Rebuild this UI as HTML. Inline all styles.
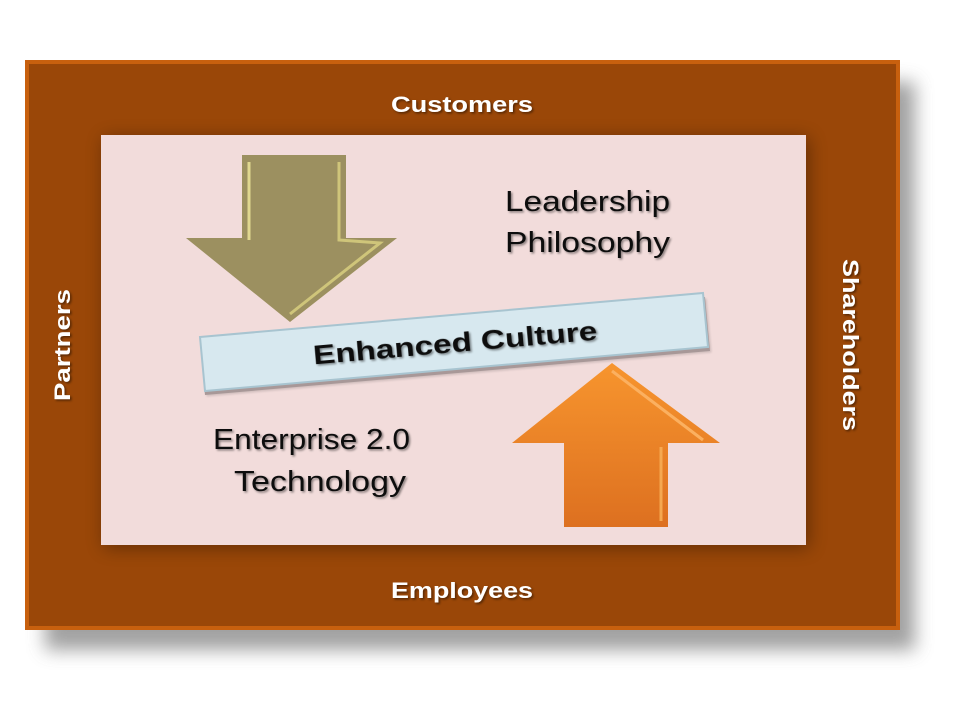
<!DOCTYPE html>
<html><head><meta charset="utf-8"><style>
html,body{margin:0;padding:0;background:#fff;width:960px;height:720px;overflow:hidden}
</style></head><body>
<svg width="960" height="720" viewBox="0 0 960 720" xmlns="http://www.w3.org/2000/svg">
<defs>
<filter id="sh" x="-10%" y="-10%" width="130%" height="130%"><feGaussianBlur stdDeviation="9"/></filter>
<linearGradient id="og" x1="0" y1="0" x2="0" y2="1"><stop offset="0" stop-color="#f7952e"/><stop offset="1" stop-color="#dd7020"/></linearGradient>
<filter id="ts"><feDropShadow dx="1.5" dy="1.5" stdDeviation="1" flood-color="#000" flood-opacity="0.45"/></filter>
</defs>
<rect x="45" y="82" width="870" height="568" fill="#8a8a8a" opacity="0.8" filter="url(#sh)"/>
<rect x="27" y="62" width="871" height="566" fill="#9a4708"/>
<rect x="27" y="62" width="871" height="566" fill="none" stroke="#c8600e" stroke-width="4"/>
<rect x="104" y="138" width="705" height="410" fill="#000" opacity="0.35" filter="url(#sh)"/>
<rect x="101" y="135" width="705" height="410" fill="#f2dcdb"/>
<!-- down arrow -->
<polygon points="242,155 346,155 346,238 397,238 290,322 186,238 242,238" fill="#9c9060"/>
<polyline points="249,162 249,240" stroke="#e0d890" stroke-width="3" fill="none"/>
<polyline points="339,162 339,240 380,243 290,314" stroke="#cfc57a" stroke-width="3" fill="none"/>
<!-- up arrow -->
<polygon points="612,363 720,443 668,443 668,527 564,527 564,443 512,443" fill="url(#og)"/>
<polyline points="612,371 703,440" stroke="#fbb060" stroke-width="3" fill="none"/>
<polyline points="661,447 661,521" stroke="#f5a850" stroke-width="3" fill="none"/>
<!-- bar -->
<polygon points="205,395 710,351 705,297 200,341" fill="#000" opacity="0.3" filter="url(#ts)"/>
<polygon points="200,337 703,293 708,347 205,391" fill="#d7e8ef" stroke="#a8c4d0" stroke-width="2"/>
<text x="455" y="352" text-anchor="middle" transform="rotate(-5 455 342)" font-family="Liberation Sans, sans-serif" font-weight="bold" font-size="27" fill="#111" filter="url(#ts)" textLength="285" lengthAdjust="spacingAndGlyphs">Enhanced Culture</text>
<g font-family="Liberation Sans, sans-serif" font-size="29" fill="#111" filter="url(#ts)">
<text x="505" y="211" textLength="165" lengthAdjust="spacingAndGlyphs">Leadership</text>
<text x="505" y="252" textLength="165" lengthAdjust="spacingAndGlyphs">Philosophy</text>
<text x="213" y="449" textLength="197" lengthAdjust="spacingAndGlyphs">Enterprise 2.0</text>
<text x="234" y="491" textLength="172" lengthAdjust="spacingAndGlyphs">Technology</text>
</g>
<g font-family="Liberation Sans, sans-serif" font-weight="bold" font-size="22" fill="#fff" filter="url(#ts)">
<text x="462" y="112" text-anchor="middle" textLength="142" lengthAdjust="spacingAndGlyphs">Customers</text>
<text x="462" y="598" text-anchor="middle" textLength="142" lengthAdjust="spacingAndGlyphs">Employees</text>
<text transform="translate(70,345) rotate(-90)" text-anchor="middle" textLength="112" lengthAdjust="spacingAndGlyphs">Partners</text>
<text transform="translate(843,345) rotate(90)" text-anchor="middle" textLength="172" lengthAdjust="spacingAndGlyphs">Shareholders</text>
</g>
</svg>
</body></html>
